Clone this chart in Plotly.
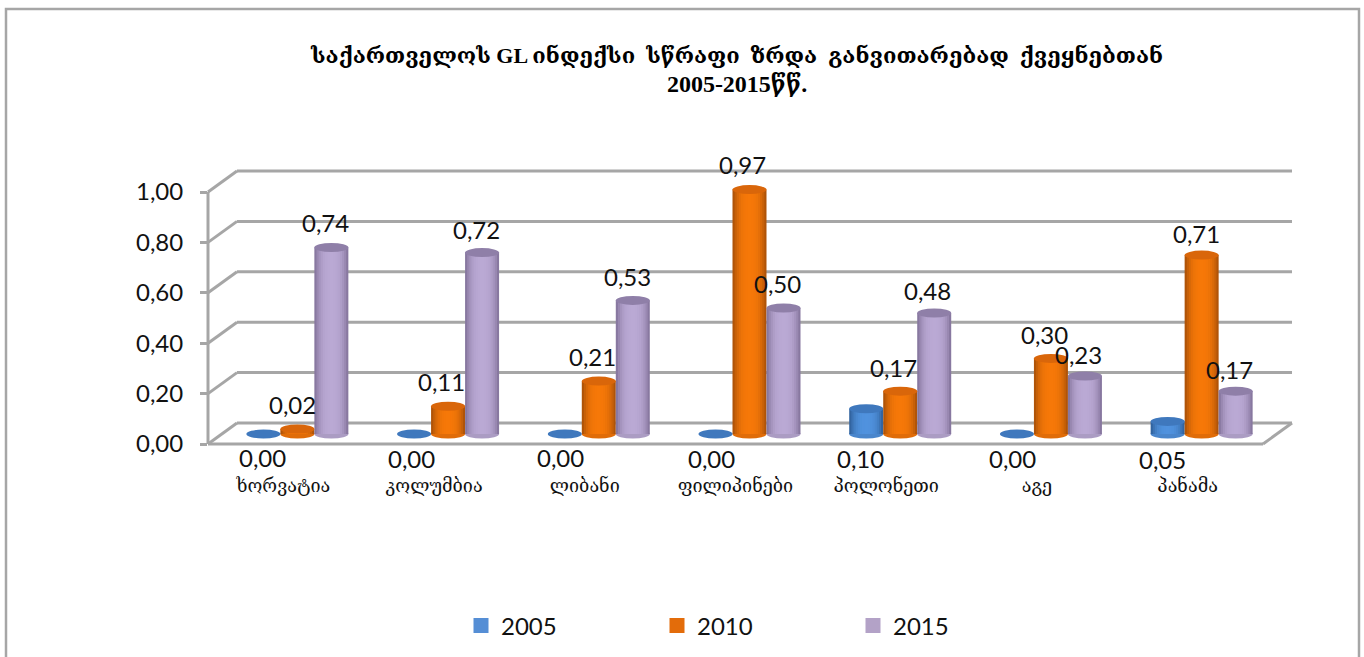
import plotly.graph_objects as go

W, H = 1364, 657
title_line_1 = "საქართველოს GL ინდექსი  სწრაფი  ზრდა  განვითარებად  ქვეყნებთან"
title_line_2 = "2005-2015წწ."
categories = ["ხორვატია", "კოლუმბია", "ლიბანი", "ფილიპინები", "პოლონეთი", "აგე", "პანამა"]
series_names = ["2005", "2010", "2015"]
values_2005 = [0.00, 0.00, 0.00, 0.00, 0.10, 0.00, 0.05]
values_2010 = [0.02, 0.11, 0.21, 0.97, 0.17, 0.30, 0.71]
values_2015 = [0.74, 0.72, 0.53, 0.50, 0.48, 0.23, 0.17]
y_ticks = [0.0, 0.2, 0.4, 0.6, 0.8, 1.0]
y_tick_labels = ["0,00", "0,20", "0,40", "0,60", "0,80", "1,00"]

# label nudges (px) relative to each cylinder top
dx_2005 = [-1, -3, -4, -4, -6, -4, -5]
dy_2005 = [24, 25, 24, 25, 50, 25, 38]
dx_2010 = [-5, -7, -6, -7, -7, -6, -5]
dy_2010 = [-24, -25, -25, -25, -24, -24, -22]
dx_2015 = [-6, -6, -5, -6, -7, -6, -6]
dy_2015 = [-25, -23, -24, -24, -23, -22, -22]

legend_colors = ["#558ed5", "#e36c0a", "#b3a2c7"]
edge_colors = [(50, 100, 160), (176, 84, 8), (136, 120, 160)]
mid_colors = [(80, 146, 222), (246, 120, 8), (186, 169, 212)]
top_colors = ["#3f78bd", "#d9660a", "#8f7fa8"]
base_colors = ["#4a86cc", "#e06c08", "#ab9cc3"]
all_values = [values_2005, values_2010, values_2015]
all_dx = [dx_2005, dx_2010, dx_2015]
all_dy = [dy_2005, dy_2010, dy_2015]

GRID = "#a6a6a6"
FRONT_L, FRONT_R, Y0, PX_PER_UNIT = 208, 1263, 444, 252
DEPTH_X, DEPTH_Y = 29, 21
Y_MAX = 1.1
CYL_Y_PX = 10          # cylinder floor sits above the front edge
CYL_X_PX = 14
CAT_PX = (FRONT_R - FRONT_L) / 7
SLOT = 34 / CAT_PX
N_LAYERS = 8


def px(x):
    return x / W


def py(y):
    return 1 - y / H


def line(x0, y0, x1, y1, width=3, color=GRID):
    return dict(type="line", xref="paper", yref="paper", x0=px(x0), x1=px(x1), y0=py(y0), y1=py(y1),
                line=dict(color=color, width=width), layer="below")


def mix(a, b, t):
    return "rgb(%d,%d,%d)" % tuple(round(a[k] + (b[k] - a[k]) * t) for k in range(3))


fig = go.Figure()
fig.add_trace(go.Scatter(x=categories, y=[0] * 7, xaxis="x", yaxis="y", mode="markers",
                         marker=dict(opacity=0), showlegend=False, hoverinfo="skip"))

shapes = [dict(type="rect", xref="paper", yref="paper", x0=px(6), x1=px(1359), y0=py(9), y1=py(H + 5),
               line=dict(color=GRID, width=2.5), fillcolor="white", layer="below")]
for t in y_ticks:
    yf = Y0 - t * PX_PER_UNIT
    yb = yf - DEPTH_Y
    shapes.append(line(FRONT_L, yf, FRONT_L + DEPTH_X, yb))
    shapes.append(line(FRONT_L + DEPTH_X, yb, FRONT_R + DEPTH_X, yb))
shapes.append(line(FRONT_L, Y0, FRONT_L, Y0 - PX_PER_UNIT))
shapes.append(line(FRONT_L, Y0, FRONT_R, Y0))
shapes.append(line(FRONT_R, Y0, FRONT_R + DEPTH_X, Y0 - DEPTH_Y))

annotations = []
half_h = 4.5 / PX_PER_UNIT
for s, vals in enumerate(all_values):
    centers = [i + (s - 1) * SLOT for i in range(len(categories))]
    xs, ys, cols, widths = [], [], [], []
    for k in range(N_LAYERS):
        w = 1 - k / N_LAYERS
        t = 1 - w ** 3
        for c, v in zip(centers, vals):
            xs.append(c)
            ys.append(v)
            widths.append(SLOT * w)
            cols.append(mix(edge_colors[s], mid_colors[s], t))
    fig.add_trace(go.Bar(x=xs, y=ys, width=widths, xaxis="x2", yaxis="y2",
                         marker=dict(color=cols, line=dict(width=0)), showlegend=False,
                         hoverinfo="skip", cliponaxis=False))
    for c, v, dx, dy in zip(centers, vals, all_dx[s], all_dy[s]):
        if v > 0:
            shapes.append(dict(type="circle", xref="x2", yref="y2", x0=c - SLOT / 2, x1=c + SLOT / 2,
                               y0=-half_h, y1=half_h, fillcolor=base_colors[s], line=dict(width=0),
                               layer="below"))
        shapes.append(dict(type="circle", xref="x2", yref="y2", x0=c - SLOT / 2, x1=c + SLOT / 2,
                           y0=v - half_h, y1=v + half_h, fillcolor=top_colors[s], line=dict(width=0),
                           layer="above"))
        annotations.append(dict(xref="x2", yref="y2", x=c, y=v, xshift=dx, yshift=-dy,
                                text=f"{v:.2f}".replace(".", ","), showarrow=False,
                                font=dict(family="Lato", size=24, color="#111111")))

for name, color in zip(series_names, legend_colors):
    fig.add_trace(go.Scatter(x=[None], y=[None], mode="markers", name=name,
                             marker=dict(symbol="square", size=15, color=color)))

title_text = title_line_1 + f"<br><span style='font-size:24px'>{title_line_2}</span>"
fig.update_layout(
    width=W, height=H, margin=dict(l=0, r=0, t=0, b=0, autoexpand=False), paper_bgcolor="white",
    plot_bgcolor="rgba(0,0,0,0)", barmode="overlay", shapes=shapes, annotations=annotations,
    title=dict(text=title_text, x=737 / W, xanchor="center", y=1 - 63 / H, yanchor="top",
               font=dict(family="Liberation Serif, DejaVu Serif, serif", size=22, color="black", weight="bold")),
    xaxis=dict(domain=[px(FRONT_L), px(FRONT_R)], type="category", categoryorder="array", categoryarray=categories,
               range=[-0.5, 6.5], showgrid=False, zeroline=False, showline=False, ticks="",
               ticklabelstandoff=29, tickfont=dict(family="DejaVu Serif", size=18, color="#111111")),
    yaxis=dict(domain=[py(Y0), py(Y0 - Y_MAX * PX_PER_UNIT)], range=[0, Y_MAX], tickvals=y_ticks,
               ticktext=y_tick_labels, showgrid=False, zeroline=False, showline=False,
               ticks="outside", ticklen=7, tickwidth=2.5, tickcolor=GRID, ticklabelstandoff=12,
               tickfont=dict(family="Lato", size=24, color="#111111")),
    xaxis2=dict(domain=[px(FRONT_L), px(FRONT_R)], overlaying="x", range=[-0.5 - CYL_X_PX / CAT_PX, 6.5 - CYL_X_PX / CAT_PX],
                visible=False),
    yaxis2=dict(domain=[py(Y0), py(Y0 - Y_MAX * PX_PER_UNIT)], overlaying="y",
                range=[-CYL_Y_PX / PX_PER_UNIT, Y_MAX - CYL_Y_PX / PX_PER_UNIT], visible=False),
    legend=dict(orientation="h", x=px(461), y=py(626), yanchor="middle", xanchor="left",
                entrywidth=151, entrywidthmode="pixels", font=dict(family="Lato", size=24, color="#111111"),
                bgcolor="rgba(0,0,0,0)"),
)

fig.write_html("out.html", config={"displayModeBar": False}, post_script="document.body.style.margin='0';")
